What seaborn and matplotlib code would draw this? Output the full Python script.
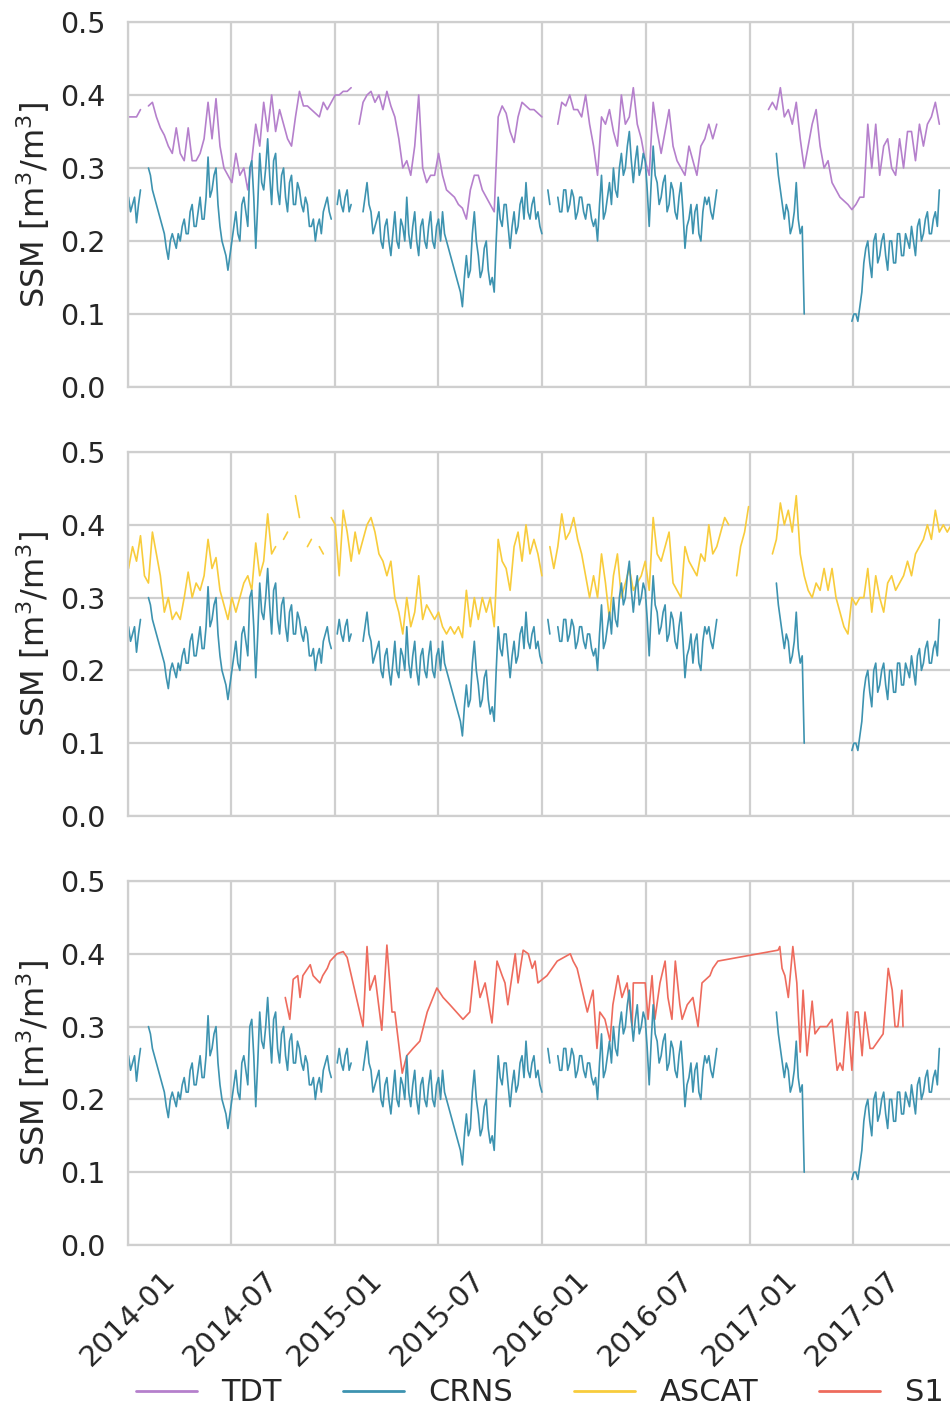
import numpy as np
import pandas as pd
import matplotlib
matplotlib.use("Agg")
import matplotlib.pyplot as plt
from matplotlib.lines import Line2D
import seaborn as sns

nan = np.nan

# ---- data ----
# CRNS: samples every 3.5 days, day offset from 2014-01-01 is 1 + 3.5*k
crns = [0.26, 0.24, 0.25, 0.26, 0.225, 0.25, 0.27, nan, nan, nan,
        0.30, 0.29, 0.27, 0.26, 0.25, 0.24, 0.23, 0.22, 0.21, 0.19,
        0.175, 0.20, 0.21, 0.20, 0.19, 0.21, 0.20, 0.22, 0.23, 0.21,
        0.21, 0.24, 0.25, 0.22, 0.22, 0.24, 0.26, 0.23, 0.23, 0.26,
        0.315, 0.26, 0.27, 0.29, 0.30, 0.25, 0.22, 0.20, 0.19, 0.18,
        0.16, 0.18, 0.20, 0.22, 0.24, 0.21, 0.20, 0.25, 0.26, 0.24,
        0.22, 0.30, 0.31, 0.26, 0.19, 0.25, 0.32, 0.28, 0.27, 0.30,
        0.34, 0.29, 0.25, 0.31, 0.32, 0.27, 0.25, 0.29, 0.30, 0.26,
        0.24, 0.28, 0.29, 0.25, 0.25, 0.28, 0.27, 0.25, 0.24, 0.26,
        0.25, 0.22, 0.22, 0.23, 0.20, 0.22, 0.23, 0.21, 0.24, 0.25,
        0.26, 0.24, 0.23, nan, nan, 0.25, 0.27, 0.25, 0.24, 0.26,
        0.27, 0.24, 0.25, nan, nan, nan, nan, nan, 0.24, 0.26,
        0.28, 0.25, 0.24, 0.21, 0.22, 0.23, 0.24, 0.20, 0.19, 0.22,
        0.23, 0.20, 0.18, 0.21, 0.24, 0.20, 0.19, 0.23, 0.22, 0.20,
        0.26, 0.21, 0.19, 0.22, 0.24, 0.20, 0.18, 0.22, 0.23, 0.20,
        0.19, 0.22, 0.24, 0.20, 0.19, 0.22, 0.23, 0.20, 0.24, 0.21,
        0.20, 0.19, 0.18, 0.17, 0.16, 0.15, 0.14, 0.13, 0.11, 0.15,
        0.18, 0.15, 0.16, 0.21, 0.24, 0.20, 0.18, 0.15, 0.16, 0.19,
        0.20, 0.16, 0.14, 0.15, 0.13, 0.20, 0.26, 0.23, 0.22, 0.25,
        0.25, 0.22, 0.19, 0.22, 0.24, 0.21, 0.22, 0.25, 0.26, 0.23,
        0.28, 0.24, 0.23, 0.25, 0.26, 0.23, 0.24, 0.22, 0.21, nan,
        nan, 0.27, 0.25, nan, nan, nan, 0.26, 0.24, 0.24, 0.27,
        0.27, 0.24, 0.25, 0.27, 0.26, 0.23, 0.24, 0.26, 0.26, 0.24,
        0.23, 0.25, 0.25, 0.23, 0.22, 0.23, 0.20, 0.25, 0.29, 0.23,
        0.24, 0.26, 0.28, 0.25, 0.30, 0.27, 0.26, 0.30, 0.32, 0.29,
        0.30, 0.33, 0.35, 0.31, 0.28, 0.31, 0.33, 0.29, 0.30, 0.32,
        0.31, 0.27, 0.22, 0.28, 0.33, 0.29, 0.28, 0.25, 0.26, 0.28,
        0.29, 0.24, 0.25, 0.28, 0.27, 0.24, 0.23, 0.26, 0.28, 0.24,
        0.19, 0.22, 0.23, 0.25, 0.21, 0.24, 0.25, 0.21, 0.20, 0.24,
        0.26, 0.25, 0.26, 0.24, 0.23, 0.25, 0.27, nan, nan, nan,
        nan, nan, nan, nan, nan, nan, nan, nan, nan, nan,
        nan, nan, nan, nan, nan, nan, nan, nan, nan, nan,
        nan, nan, nan, nan, nan, nan, 0.32, 0.29, 0.27, 0.25,
        0.23, 0.25, 0.24, 0.21, 0.22, 0.24, 0.28, 0.23, 0.21, 0.22,
        0.10, nan, nan, nan, nan, nan, nan, nan, nan, nan,
        nan, nan, nan, nan, nan, nan, nan, nan, nan, nan,
        nan, nan, nan, nan, 0.09, 0.10, 0.10, 0.09, 0.11, 0.13,
        0.17, 0.19, 0.20, 0.17, 0.15, 0.20, 0.21, 0.17, 0.18, 0.20,
        0.21, 0.18, 0.16, 0.20, 0.20, 0.17, 0.17, 0.21, 0.21, 0.18,
        0.18, 0.21, 0.20, 0.19, 0.22, 0.20, 0.18, 0.22, 0.23, 0.20,
        0.21, 0.23, 0.24, 0.21, 0.21, 0.23, 0.24, 0.22, 0.27]

# TDT and ASCAT: weekly samples, day offset from 2014-01-01 is 1 + 7*i
tdt = [0.37, 0.37, 0.37, 0.38, nan, 0.385, 0.39, 0.37, 0.355, 0.345,
       0.33, 0.32, 0.355, 0.32, 0.31, 0.355, 0.31, 0.31, 0.32, 0.34,
       0.39, 0.34, 0.395, 0.33, 0.30, 0.29, 0.28, 0.32, 0.29, 0.30,
       0.27, 0.31, 0.36, 0.33, 0.39, 0.35, 0.40, 0.35, 0.38, 0.36,
       0.34, 0.33, 0.37, 0.405, 0.385, 0.385, 0.38, 0.375, 0.37, 0.39,
       0.38, 0.39, 0.40, 0.40, 0.405, 0.405, 0.41, nan, 0.36, 0.39,
       0.40, 0.405, 0.39, 0.40, 0.38, 0.405, 0.385, 0.37, 0.34, 0.30,
       0.31, 0.29, 0.33, 0.40, 0.30, 0.28, 0.29, 0.29, 0.32, 0.29,
       0.27, 0.265, 0.26, 0.25, 0.245, 0.23, 0.27, 0.29, 0.29, 0.27,
       0.26, 0.25, 0.24, 0.37, 0.385, 0.375, 0.35, 0.335, 0.37, 0.39,
       0.385, 0.38, 0.38, 0.375, 0.37, nan, 0.38, nan, 0.36, 0.39,
       0.385, 0.40, 0.38, 0.38, 0.37, 0.40, 0.36, 0.33, 0.29, 0.37,
       0.36, 0.38, 0.35, 0.33, 0.40, 0.36, 0.37, 0.41, 0.36, 0.34,
       0.31, 0.29, 0.39, 0.35, 0.32, 0.35, 0.38, 0.33, 0.31, 0.30,
       0.29, 0.33, 0.31, 0.29, 0.33, 0.34, 0.36, 0.34, 0.36, nan,
       nan, nan, nan, nan, nan, nan, nan, nan, nan, nan,
       nan, 0.38, 0.39, 0.38, 0.41, 0.37, 0.38, 0.36, 0.39, 0.34,
       0.30, 0.33, 0.36, 0.38, 0.33, 0.30, 0.31, 0.28, 0.27, 0.26,
       0.255, 0.25, 0.243, 0.25, 0.26, 0.26, 0.36, 0.30, 0.36, 0.29,
       0.33, 0.34, 0.30, 0.29, 0.34, 0.30, 0.35, 0.35, 0.31, 0.36,
       0.33, 0.36, 0.37, 0.39, 0.36]

ascat = [0.34, 0.37, 0.35, 0.385, 0.33, 0.32, 0.39, 0.36, 0.33, 0.28,
         0.30, 0.27, 0.28, 0.27, 0.30, 0.335, 0.30, 0.32, 0.31, 0.33,
         0.38, 0.34, 0.355, 0.31, 0.29, 0.27, 0.30, 0.28, 0.30, 0.32,
         0.33, 0.31, 0.375, 0.33, 0.35, 0.415, 0.36, 0.37, nan, 0.38,
         0.39, nan, 0.44, 0.41, nan, 0.37, 0.38, nan, 0.37, 0.36,
         nan, 0.41, 0.40, 0.33, 0.42, 0.39, 0.35, 0.39, 0.36, 0.38,
         0.40, 0.41, 0.39, 0.36, 0.35, 0.33, 0.35, 0.30, 0.28, 0.25,
         0.30, 0.26, 0.28, 0.33, 0.27, 0.29, 0.28, 0.27, 0.28, 0.26,
         0.25, 0.26, 0.25, 0.26, 0.245, 0.31, 0.26, 0.30, 0.27, 0.30,
         0.28, 0.30, 0.26, 0.38, 0.35, 0.34, 0.31, 0.37, 0.39, 0.35,
         0.40, 0.36, 0.38, 0.36, 0.33, nan, 0.37, 0.34, 0.37, 0.415,
         0.38, 0.39, 0.41, 0.38, 0.36, 0.33, 0.30, 0.33, 0.30, 0.36,
         0.32, 0.27, 0.33, 0.36, 0.30, 0.32, 0.34, 0.31, 0.32, 0.33,
         0.35, 0.31, 0.41, 0.36, 0.35, 0.37, 0.39, 0.32, 0.31, 0.30,
         0.37, 0.35, 0.34, 0.33, 0.36, 0.35, 0.40, 0.36, 0.37, 0.39,
         0.41, 0.40, nan, 0.33, 0.37, 0.39, 0.425, nan, nan, nan,
         nan, nan, 0.36, 0.38, 0.43, 0.40, 0.42, 0.39, 0.44, 0.36,
         0.33, 0.31, 0.30, 0.32, 0.31, 0.34, 0.31, 0.34, 0.30, 0.28,
         0.26, 0.25, 0.30, 0.29, 0.30, 0.30, 0.34, 0.28, 0.33, 0.30,
         0.28, 0.32, 0.33, 0.31, 0.32, 0.33, 0.35, 0.33, 0.36, 0.37,
         0.38, 0.40, 0.38, 0.42, 0.39, 0.40, 0.39, 0.40]

# S1: irregular acquisitions, day offset from 2014-01-01
s1_day = [277, 285, 291, 299, 303, 308, 321, 326, 338, 343, 351, 356, 368, 379, 386,
          414, 421, 426, 435, 447, 456, 465, 470, 483, 491, 502, 514, 527, 544, 555,
          567, 590, 602, 611, 620, 629, 641, 650, 659, 664, 669, 682, 687, 696, 705,
          712, 717, 722, 738, 756, 779, 784, 791, 809, 819, 826, 831, 840, 849, 854,
          863, 870, 879, 888, 890, 911, 916, 923, 928, 937, 946, 951, 958, 964, 972,
          976, 985, 995, 1004, 1011, 1025, 1030, 1039, 1145, 1148, 1152, 1157, 1163, 1171, 1178,
          1184, 1189, 1196, 1205, 1210, 1219, 1231, 1240, 1249, 1254, 1259, 1267, 1275, 1281, 1286,
          1293, 1298, 1307, 1312, 1330, 1339, 1346, 1351, 1356, 1363, 1365]
s1_val = [0.34, 0.31, 0.365, 0.37, 0.34, 0.37, 0.385, 0.37, 0.36, 0.37, 0.38, 0.39, 0.40, 0.403, 0.395,
          0.30, 0.41, 0.35, 0.37, 0.295, 0.412, 0.32, 0.32, 0.236, 0.26, 0.27, 0.28, 0.32, 0.353, 0.34,
          0.33, 0.31, 0.32, 0.39, 0.34, 0.36, 0.305, 0.39, 0.37, 0.36, 0.33, 0.40, 0.36, 0.405, 0.40,
          0.38, 0.39, 0.36, 0.37, 0.39, 0.40, 0.39, 0.38, 0.32, 0.35, 0.27, 0.32, 0.31, 0.28, 0.33,
          0.37, 0.34, 0.36, 0.30, 0.36, 0.36, 0.31, 0.37, 0.31, 0.36, 0.39, 0.34, 0.31, 0.39, 0.33,
          0.31, 0.33, 0.34, 0.30, 0.36, 0.37, 0.38, 0.39, 0.405, 0.41, 0.38, 0.37, 0.34, 0.41, 0.36,
          0.265, 0.35, 0.26, 0.335, 0.29, 0.30, 0.30, 0.31, 0.24, 0.25, 0.24, 0.32, 0.24, 0.32, 0.32,
          0.26, 0.32, 0.27, 0.27, 0.29, 0.38, 0.35, 0.30, 0.30, 0.35, 0.30]

series_names = ["TDT", "CRNS", "ASCAT", "S1"]
colors = {"TDT": "#b580cc", "CRNS": "#3d93b0", "ASCAT": "#f8cc3c", "S1": "#ee6b5d"}
yticks = [0.0, 0.1, 0.2, 0.3, 0.4, 0.5]
xtick_labels = ["2014-01", "2014-07", "2015-01", "2015-07",
                "2016-01", "2016-07", "2017-01", "2017-07"]

BASE = pd.Timestamp("2014-01-01")


def regular_frame(values, step):
    vals = np.array(values, dtype=float)
    days = 1 + step * np.arange(len(vals))
    seg = np.cumsum(np.isnan(vals))
    df = pd.DataFrame({"date": BASE + pd.to_timedelta(days, unit="D"),
                       "ssm": vals, "seg": seg})
    return df.dropna()


def irregular_frame(days, values):
    return pd.DataFrame({"date": BASE + pd.to_timedelta(np.array(days), unit="D"),
                         "ssm": np.array(values, dtype=float), "seg": 0})


frames = {"TDT": regular_frame(tdt, 7), "CRNS": regular_frame(crns, 3.5),
          "ASCAT": regular_frame(ascat, 7), "S1": irregular_frame(s1_day, s1_val)}

sns.set_theme(style="whitegrid")
plt.rcParams["font.family"] = ["DejaVu Sans"]
plt.rcParams.update({
    "grid.color": "#cfcfcf", "grid.linewidth": 1.6,
    "axes.edgecolor": "#cfcfcf", "axes.linewidth": 1.6,
})

fig = plt.figure(figsize=(9.5, 14.11), dpi=100)
W = 950.0
H = 1411.0
left = 128 / W
width = (957.5 - 128) / W
panels = [("TDT", 22, 387), ("ASCAT", 452, 816), ("S1", 881, 1245)]

axes = []
for other, top, bot in panels:
    ax = fig.add_axes([left, 1 - bot / H, width, (bot - top) / H])
    for name in (other, "CRNS"):
        sns.lineplot(data=frames[name], x="date", y="ssm", units="seg",
                     estimator=None, color=colors[name], lw=1.2, ax=ax,
                     legend=False)
    ax.set_ylim(0, 0.5)
    ax.set_xlim(pd.Timestamp("2014-01-01"), pd.Timestamp("2018-01-01"))
    ax.set_yticks(yticks)
    ax.set_yticklabels([f"{t:.1f}" for t in yticks])
    ax.set_ylabel("SSM [m$^3$/m$^3$]", fontsize=23, labelpad=6)
    ax.set_xlabel("")
    ax.tick_params(axis="y", labelsize=20.5, pad=10)
    xt = [pd.Timestamp(s + "-01") for s in xtick_labels]
    ax.set_xticks(xt)
    axes.append(ax)

for ax in axes[:-1]:
    ax.set_xticklabels([])
    ax.tick_params(axis="x", length=0)
axes[-1].set_xticklabels(xtick_labels, rotation=45, ha="center")
axes[-1].tick_params(axis="x", labelsize=21, pad=9)

handles = [Line2D([0], [0], color=colors[n], lw=2) for n in series_names]
fig.legend(handles, series_names, loc="center", ncol=4, frameon=False,
           fontsize=22, bbox_to_anchor=(0.568, 0.0128),
           bbox_transform=fig.transFigure)

fig.savefig("out.png", dpi=100)
